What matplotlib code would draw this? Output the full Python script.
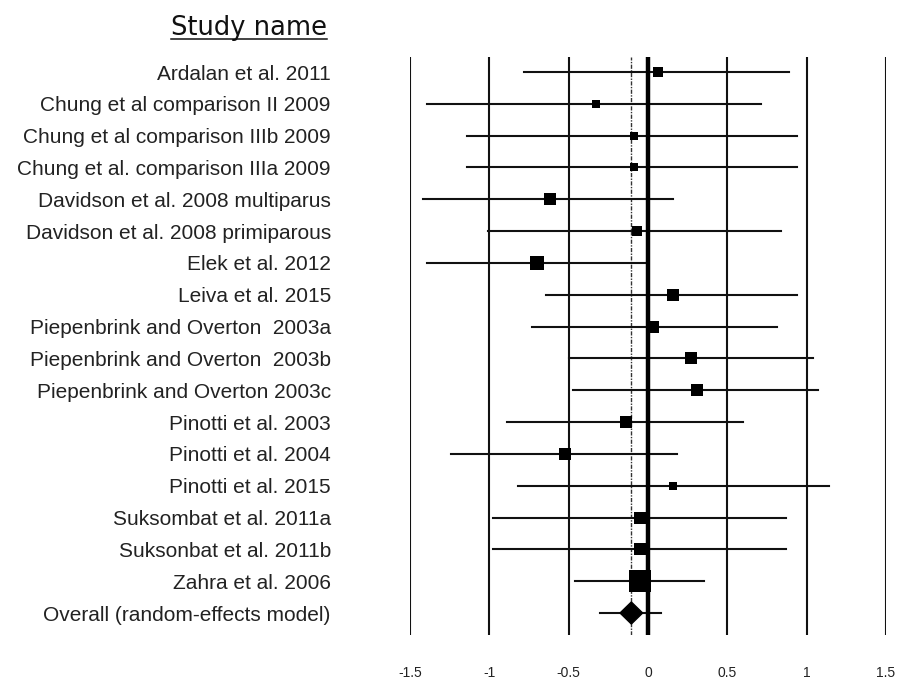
import matplotlib
matplotlib.use("Agg")
import matplotlib.pyplot as plt
from matplotlib.patches import Polygon
import numpy as np

# ---------- data ----------
studies = [
    "Ardalan et al. 2011",
    "Chung et al comparison II 2009",
    "Chung et al comparison IIIb 2009",
    "Chung et al. comparison IIIa 2009",
    "Davidson et al. 2008 multiparus",
    "Davidson et al. 2008 primiparous",
    "Elek et al. 2012",
    "Leiva et al. 2015",
    "Piepenbrink and Overton  2003a",
    "Piepenbrink and Overton  2003b",
    "Piepenbrink and Overton 2003c",
    "Pinotti et al. 2003",
    "Pinotti et al. 2004",
    "Pinotti et al. 2015",
    "Suksombat et al. 2011a",
    "Suksonbat et al. 2011b",
    "Zahra et al. 2006",
]
estimate = [0.06, -0.33, -0.09, -0.09, -0.62, -0.07, -0.70, 0.16, 0.03, 0.27,
            0.31, -0.14, -0.52, 0.16, -0.05, -0.05, -0.05]
lower = [-0.78, -1.39, -1.14, -1.14, -1.42, -1.01, -1.39, -0.64, -0.73, -0.50,
         -0.47, -0.89, -1.24, -0.82, -0.98, -0.98, -0.46]
upper = [0.89, 0.71, 0.94, 0.94, 0.16, 0.84, -0.01, 0.94, 0.81, 1.04,
         1.07, 0.60, 0.18, 1.14, 0.87, 0.87, 0.35]
weights = [4.0, 3.2, 3.0, 3.0, 5.8, 4.0, 7.9, 5.8, 6.4, 5.8,
           5.8, 5.8, 6.0, 2.6, 5.8, 5.8, 19.4]  # relative weight, %

overall_label = "Overall (random-effects model)"
overall_est, overall_lo, overall_hi = -0.105, -0.30, 0.08

xticks = [-1.5, -1, -0.5, 0, 0.5, 1, 1.5]
xticklabels = ["-1.5", "-1", "-0.5", "0", "0.5", "1", "1.5"]

# ---------- figure ----------
W, H = 900, 678
fig = plt.figure(figsize=(W / 100, H / 100), dpi=100)
ax_left, ax_right = 410, 886
ax_top, ax_bot = 57, 635
ax = fig.add_axes([ax_left / W, 1 - ax_bot / H, (ax_right - ax_left) / W, (ax_bot - ax_top) / H])

n = len(studies)
rows = np.arange(n + 1)
row_px = (613 - 72) / n
ax.set_xlim(-1.5, 1.5)
ax.set_ylim(n + 22 / row_px, -15 / row_px)

for spine in ax.spines.values():
    spine.set_visible(False)

for xv in xticks:
    if xv == 0:
        ax.axvline(0, color="black", lw=3.2, zorder=4)
    else:
        ax.axvline(xv, color="#111111", lw=1.5, zorder=1)
ax.axvline(overall_est, color="#333333", lw=1.0, linestyle=(0, (3, 1, 1, 1)), zorder=1)

px_per_unit = (ax_right - ax_left) / 3.0
for i in range(n):
    ax.plot([lower[i], upper[i]], [i, i], color="#111111", lw=1.5, zorder=2)
    side = np.sqrt(weights[i] * 24.95)  # px
    ax.plot(estimate[i], i, marker="s", ms=side * 0.72, color="black",
            mec="black", mew=0, zorder=3)

# overall
yo = n
ax.plot([overall_lo, overall_hi], [yo, yo], color="#111111", lw=1.5, zorder=2)
hw = 11.3 / px_per_unit
hh = 11.0 / row_px
ax.add_patch(Polygon([(overall_est - hw, yo), (overall_est, yo - hh),
                      (overall_est + hw, yo), (overall_est, yo + hh)],
                     closed=True, color="black", zorder=3))

ax.set_xticks(xticks)
ax.set_xticklabels(xticklabels, fontsize=10, color="#222222", family="Liberation Sans")
ax.set_yticks(rows)
ax.set_yticklabels(studies + [overall_label], fontsize=15, color="#222222",
                   family="Liberation Sans")
ax.tick_params(axis="x", length=0, pad=22)
ax.tick_params(axis="y", length=0, pad=57)

# header
title = fig.text(327 / W, 1 - 35 / H, "Study name", ha="right", va="baseline",
                 fontsize=18.5, family="DejaVu Sans", color="#111111")
fig.canvas.draw()
bb = title.get_window_extent(fig.canvas.get_renderer())
uy = 1 - 39 / H
fig.add_artist(plt.Line2D([bb.x0 / W, bb.x1 / W], [uy, uy], color="#111111", lw=1.1,
                          transform=fig.transFigure))

fig.savefig("out.png", dpi=100)
